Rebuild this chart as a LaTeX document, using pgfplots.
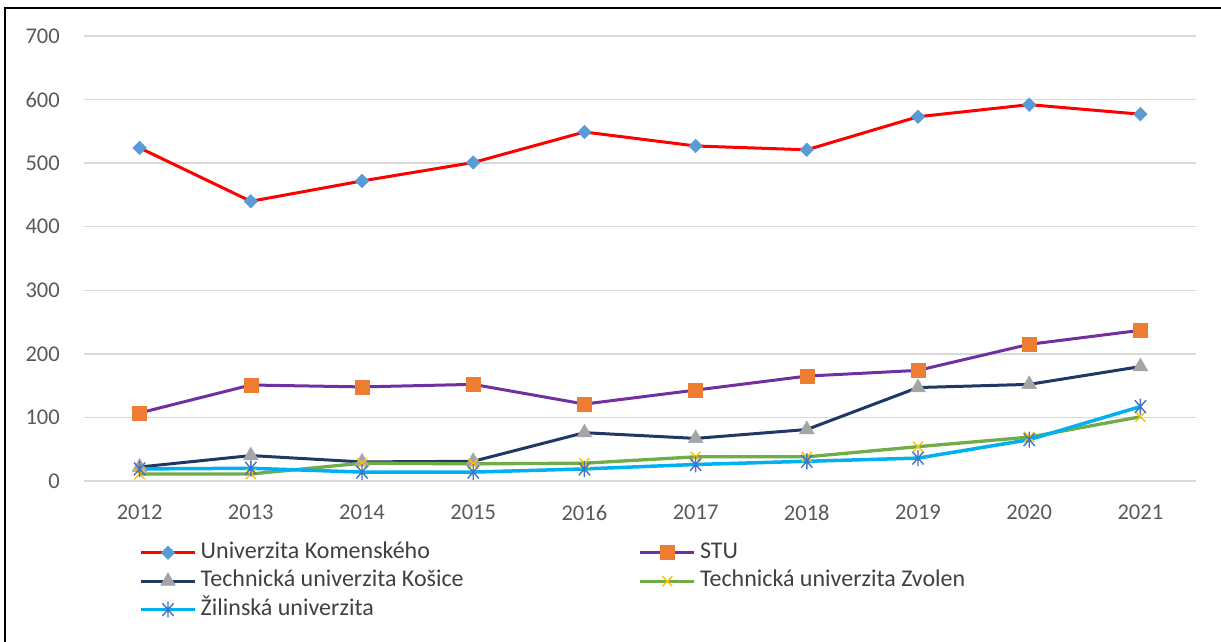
\documentclass[border=0pt]{standalone}
\usepackage{fontspec}
\setmainfont{Carlito}
\usepackage{pgfplots}
\pgfplotsset{compat=1.18}
\definecolor{tickgray}{HTML}{595959}
\definecolor{leggray}{HTML}{404040}
\definecolor{gridgray}{HTML}{D9D9D9}
\definecolor{ukline}{HTML}{FF0000}
\definecolor{ukmark}{HTML}{5B9BD5}
\definecolor{stuline}{HTML}{7030A0}
\definecolor{stumark}{HTML}{ED7D31}
\definecolor{tukeline}{HTML}{1F3864}
\definecolor{tukemark}{HTML}{A5A5A5}
\definecolor{tuzvline}{HTML}{70AD47}
\definecolor{tuzvmark}{HTML}{FFC000}
\definecolor{zuline}{HTML}{00B0F0}
\definecolor{zumark}{HTML}{4472C4}

% Excel style star: vertical bar plus a cross
\pgfdeclareplotmark{xstar}{%
  \pgfpathmoveto{\pgfqpoint{0pt}{\pgfplotmarksize}}%
  \pgfpathlineto{\pgfqpoint{0pt}{-\pgfplotmarksize}}%
  \pgfpathmoveto{\pgfqpoint{-0.7\pgfplotmarksize}{-0.8\pgfplotmarksize}}%
  \pgfpathlineto{\pgfqpoint{0.7\pgfplotmarksize}{0.8\pgfplotmarksize}}%
  \pgfpathmoveto{\pgfqpoint{-0.7\pgfplotmarksize}{0.8\pgfplotmarksize}}%
  \pgfpathlineto{\pgfqpoint{0.7\pgfplotmarksize}{-0.8\pgfplotmarksize}}%
  \pgfusepathqstroke}

\begin{document}
\begin{tikzpicture}[x=1pt,y=1pt]
\useasboundingbox (0,0) rectangle (1221,642);
\draw[line width=2pt] (5,-5) -- (5,634) -- (1230,634);
\begin{axis}[
  at={(84pt,161pt)}, anchor=south west,
  scale only axis, width=1112pt, height=445pt,
  xmin=2011.5, xmax=2021.5, ymin=0, ymax=700,
  xtick={2012,2013,...,2021}, ytick={0,100,...,700},
  ymajorgrids, grid style={line width=1.5pt,color=gridgray},
  axis line style={draw=none}, major tick length=0pt,
  /pgf/number format/1000 sep={},
  /pgf/number format/assume math mode=true,
  tick label style={font=\fontsize{22.5}{26}\selectfont,text=tickgray,inner sep=0pt},
  yticklabel style={anchor=east,xshift=-24pt},
  xticklabel style={anchor=north,yshift=-24pt},
  clip=false,
  legend columns=2,
  legend style={at={(0.0495,-0.137)},anchor=north west,draw=none,fill=none,
    font=\fontsize{24}{28}\selectfont,text=leggray,inner sep=0pt,
    row sep=7.5pt,
    nodes={inner sep=0pt,text height=16pt,text depth=5pt},
    /tikz/every odd column/.append style={column sep=4pt}},
  legend cell align=left,
  legend image code/.code={\draw[mark repeat=2,mark phase=2]
    plot coordinates {(0pt,0pt)(27pt,0pt)(54pt,0pt)};},
  every axis plot/.append style={line width=3pt},
]
\addplot[ukline,mark=square*,mark size=4.8pt,
  mark options={fill=ukmark,draw=ukmark,line width=0.5pt,rotate=45}] coordinates {
  (2012,524) (2013,440) (2014,472) (2015,501) (2016,549)
  (2017,527) (2018,521) (2019,573) (2020,592) (2021,577)};
\addlegendentry{\makebox[438pt][l]{Univerzita Komensk\'eho}}
\addplot[stuline,mark=square*,mark size=7pt,
  mark options={fill=stumark,draw=stumark,line width=0.5pt}] coordinates {
  (2012,107) (2013,151) (2014,148) (2015,152) (2016,121)
  (2017,143) (2018,165) (2019,174) (2020,215) (2021,237)};
\addlegendentry{STU}
\addplot[tukeline,mark=triangle*,mark size=8.5pt,
  mark options={fill=tukemark,draw=tukemark,line width=0.5pt}] coordinates {
  (2012,22) (2013,40) (2014,30) (2015,31) (2016,76)
  (2017,67) (2018,81) (2019,147) (2020,152) (2021,180)};
\addlegendentry{\makebox[438pt][l]{Technická univerzita Košice}}
\addplot[tuzvline,line width=3.3pt,mark=x,mark size=7pt,
  mark options={draw=tuzvmark,line width=1.4pt}] coordinates {
  (2012,11) (2013,11) (2014,28) (2015,27) (2016,28)
  (2017,38) (2018,38) (2019,54) (2020,69) (2021,101)};
\addlegendentry{Technická univerzita Zvolen}
\addplot[zuline,line width=3.5pt,mark=xstar,mark size=8pt,
  mark options={draw=zumark,line width=1.4pt}] coordinates {
  (2012,19) (2013,20) (2014,14) (2015,14) (2016,19)
  (2017,26) (2018,31) (2019,36) (2020,65) (2021,117)};
\addlegendentry{\makebox[438pt][l]{Žilinská univerzita}}
\end{axis}
\end{tikzpicture}
\end{document}
